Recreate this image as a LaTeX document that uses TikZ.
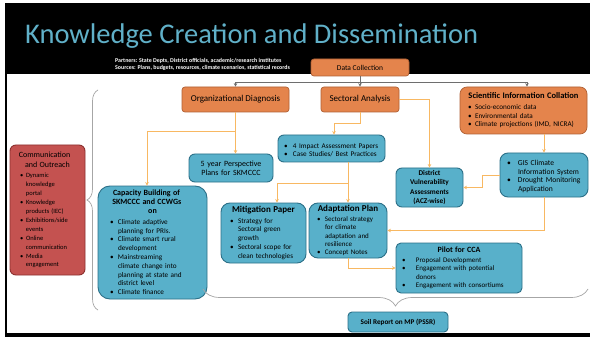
\documentclass[tikz,border=0pt]{standalone}
\usepackage{fontspec}
\setmainfont{Carlito}
\usepackage{tikz}
\usetikzlibrary{positioning,arrows.meta,decorations.pathreplacing}

\definecolor{orgfill}{RGB}{228,132,76}
\definecolor{orgline}{RGB}{176,96,52}
\definecolor{blufill}{RGB}{88,176,202}
\definecolor{bluline}{RGB}{44,112,136}
\definecolor{redfill}{RGB}{196,82,80}
\definecolor{redline}{RGB}{140,48,46}
\definecolor{linkc}{RGB}{248,184,98}
\definecolor{busc}{RGB}{110,110,110}
\definecolor{titlec}{RGB}{96,176,200}

\newdimen\bulx \newdimen\bulw
\newcommand{\itm}[1]{\par\noindent\hangindent=\bulw\hangafter=1\hbox to\bulw{\hskip\bulx\textbullet\hfil}#1\par}
\newcommand{\ttl}[1]{{\centering #1\par}\vskip1.5pt}

\begin{document}
\begin{tikzpicture}[x=1pt,y=-1pt,
  every node/.style={font=\fontsize{7.2}{8.8}\selectfont},
  orgbox/.style={rectangle,rounded corners=3pt,draw=orgline,fill=orgfill,line width=0.7pt,
                 inner sep=2pt,align=center},
  blubox/.style={rectangle,rounded corners=6pt,draw=bluline,fill=blufill,line width=0.9pt,
                 inner xsep=3pt,inner ysep=2pt,align=left},
  redbox/.style={blubox,draw=redline,fill=redfill},
  bul/.style 2 args={execute at begin node={\bulx=#1\relax\bulw=#2\relax}},
  bus/.style ={-{Stealth[length=3.5pt,width=3.5pt]},draw=busc,line width=0.7pt},
  link/.style={-{Stealth[length=3.5pt,width=3.5pt]},draw=linkc,line width=0.8pt},
  brc/.style ={decorate,draw=gray!70,line width=0.7pt},
]
\useasboundingbox (0,0) rectangle (590,337);
\fill[black] (5,3) rectangle (590,337);
\fill[white] (7,74) rectangle (590,333);

\node[anchor=base west,inner sep=0,text=titlec,font=\fontsize{28.5}{32}\selectfont] (title) at (25,44)
  {Knowledge Creation and Dissemination};
\node[anchor=north west,inner sep=0,align=left,text=white,font=\fontsize{5.9}{6.6}\selectfont\bfseries]
  (partners) at (115,58.5)
  {Partners: State Depts, District officials, academic/research institutes\\
   Sources: Plans, budgets, resources, climate scenarios, statistical records};

\node[orgbox,minimum width=98pt,minimum height=17pt,font=\fontsize{7.5}{9}\selectfont] (datacol) at (360,67.5) {Data Collection};
\node[orgbox,minimum width=107pt,minimum height=25pt,font=\fontsize{9}{11}\selectfont] (orgdiag) at (235.5,99.5) {Organizational Diagnosis};
\node[orgbox,minimum width=78pt,minimum height=25pt,font=\fontsize{9}{11}\selectfont] (sectoral) at (360,99.5) {Sectoral Analysis};
\node[orgbox,rounded corners=7pt,align=left,text width=121pt,minimum height=47pt,inner xsep=3pt,bul={5pt}{12pt}]
  (scientific) at (523.5,110.5)
  {\ttl{\fontsize{8.5}{10}\selectfont\bfseries Scientific Information Collation}%
   \itm{Socio-economic data}\itm{Environmental data}\itm{Climate projections (IMD, NICRA)}};

\node[redbox,text width=69pt,minimum height=130pt,font=\fontsize{6.5}{8.9}\selectfont,bul={7pt}{13pt}]
  (comm) at (47.5,210)
  {\ttl{\fontsize{8}{10}\selectfont Communication\newline and Outreach}%
   \itm{Dynamic\newline knowledge\newline portal}\itm{Knowledge\newline products (IEC)}%
   \itm{Exhibitions/side\newline events}\itm{Online\newline communication}\itm{Media\newline engagement}};
\node[blubox,rounded corners=12pt,text width=103pt,minimum height=113pt,bul={9pt}{17pt}]
  (capacity) at (152.5,242.5)
  {\ttl{\fontsize{8}{9}\selectfont\bfseries Capacity Building of\newline SKMCCC and CCWGs\newline on}%
   \itm{Climate adaptive\newline planning for PRIs.}\itm{Climate smart rural\newline development}%
   \itm{Mainstreaming\newline climate change into\newline planning at state and\newline district level}%
   \itm{Climate finance}};
\node[blubox,text width=78pt,minimum height=28pt,align=center,font=\fontsize{8}{9}\selectfont]
  (fiveyear) at (231,168) {5 year Perspective\\Plans for SKMCCC};
\node[blubox,text width=101pt,minimum height=27pt,bul={3pt}{12pt},font=\fontsize{7.2}{8.5}\selectfont]
  (impact) at (331.5,148.5) {\itm{4 Impact Assessment Papers}\itm{Case Studies/ Best Practices}};
\node[blubox,rounded corners=9pt,text width=79pt,minimum height=60pt,bul={6pt}{14pt}]
  (mitigation) at (263.5,233)
  {\ttl{\fontsize{9}{11}\selectfont\bfseries Mitigation Paper}%
   \itm{Strategy for\newline Sectoral green\newline growth}\itm{Sectoral scope for\newline clean technologies}};
\node[blubox,rounded corners=9pt,text width=72pt,minimum height=55pt,inner ysep=1pt,bul={5pt}{13pt},
      font=\fontsize{7}{8.4}\selectfont]
  (adaptation) at (348,230.5)
  {\ttl{\fontsize{9}{10}\selectfont\bfseries Adaptation Plan}%
   \itm{Sectoral strategy\newline for climate\newline adaptation and\newline resilience}\itm{Concept Notes}};
\node[blubox,text width=61pt,minimum height=39pt,align=center,font=\fontsize{7.3}{9.5}\selectfont\bfseries]
  (district) at (429.5,187.5) {District\\Vulnerability\\Assessments\\(ACZ-wise)};
\node[blubox,rounded corners=8pt,text width=82pt,minimum height=44pt,bul={4pt}{15pt},font=\fontsize{7.6}{8.4}\selectfont]
  (gis) at (544,175) {\itm{GIS Climate\newline Information System}\itm{Drought Monitoring\newline Application}};
\node[blubox,rounded corners=5pt,text width=120pt,minimum height=50pt,bul={3pt}{17pt},font=\fontsize{7}{8.3}\selectfont]
  (pilot) at (459,268)
  {\ttl{\fontsize{8}{9}\selectfont\bfseries Pilot for CCA}%
   \itm{Proposal Development}\itm{Engagement with potential\newline donors}\itm{Engagement with consortiums}};
\node[blubox,rounded corners=4pt,minimum width=100pt,minimum height=20pt,align=center,
      font=\fontsize{7.2}{8.5}\selectfont\bfseries] (soil) at (398,322) {Soil Report on MP (PSSR)};

\draw[bus] (datacol.south) -- ++(0,6) -| (orgdiag.north);
\draw[bus] (datacol.south) -- ++(0,6) -| ([xshift=3.5pt]scientific.north);
\draw[bus] (datacol.south) -- (sectoral.north);

\draw[link] (orgdiag.south) -- (orgdiag.south |- fiveyear.north);
\draw[link] (orgdiag.south) -- ++(0,19) -| ([xshift=-5.5pt]capacity.north);
\draw[link] (sectoral.south) -- ++(0,11) -| ([xshift=2.5pt]impact.north);
\draw[link] (sectoral.east) -| (district.north);
\draw[link] (impact.south -| adaptation.north) -- (adaptation.north);
\draw[link] (impact.south -| adaptation.north) -- ++(0,21) -| ([xshift=13.5pt]mitigation.north);
\draw[link] (scientific.south -| gis.north) -- (gis.north);
\draw[link] (gis.west) -- ++(-17,0) |- (district.east);
\draw[link] (gis.south) |- (adaptation.east);
\draw[link] (adaptation.south) |- (pilot.west);

\coordinate (lbtop) at (98,90);
\coordinate (lbbot) at (98,310);
\coordinate (bbleft) at (203,289);
\coordinate (bbright) at (588,289);
\draw[brc,decoration={brace,amplitude=11pt}] (lbbot) -- (lbtop);
\draw[brc,decoration={brace,amplitude=17pt}] (bbright) -- (bbleft);
\end{tikzpicture}
\end{document}
